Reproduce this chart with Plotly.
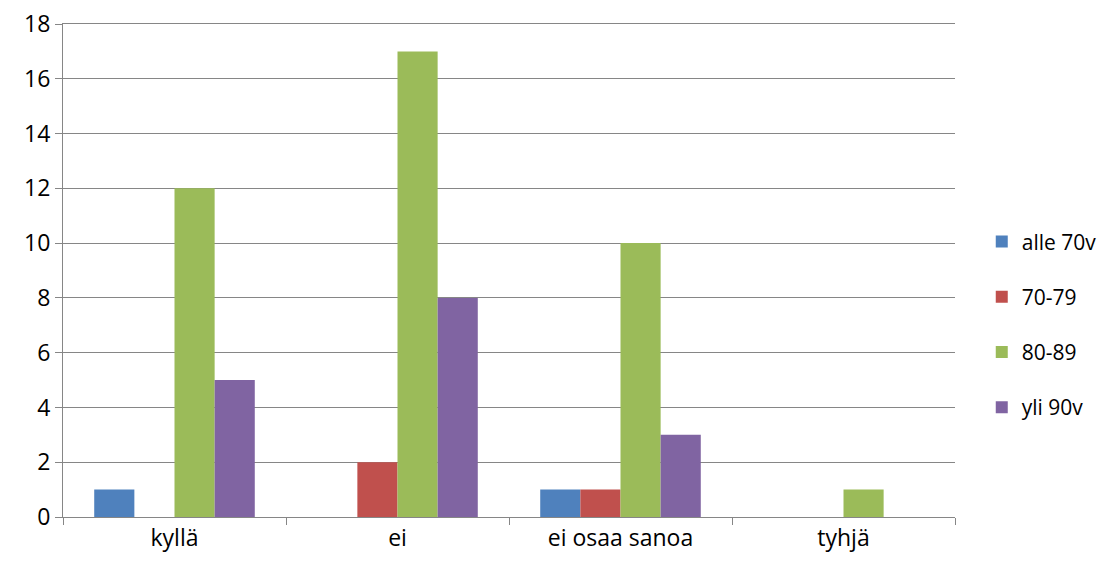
import plotly.graph_objects as go

categories = ["kyllä", "ei", "ei osaa sanoa", "tyhjä"]
series_names = ["alle 70v", "70-79", "80-89", "yli 90v"]
alle_70v = [1, 0, 1, 0]
v70_79 = [0, 2, 1, 0]
v80_89 = [12, 17, 10, 1]
yli_90v = [5, 8, 3, 0]
colors = ["#4F81BD", "#C0504D", "#9BBB59", "#8064A2"]

fig = go.Figure()
for i, (name, vals) in enumerate(zip(series_names, [alle_70v, v70_79, v80_89, yli_90v])):
    fig.add_trace(go.Bar(x=categories, y=vals, name=name, marker_color=colors[i],
                         marker_line_width=0, legendgroup=name))

font = dict(family="Open Sans, Noto Sans, sans-serif", size=23, color="#000000")
fig.update_layout(
    width=1109, height=566,
    margin=dict(l=55, r=162, t=16, b=57, autoexpand=False),
    paper_bgcolor="white", plot_bgcolor="white",
    barmode="group", bargap=0.28, bargroupgap=0,
    font=font,
    legend=dict(x=1.03, y=0.39, xanchor="left", yanchor="middle",
                tracegroupgap=25, font=dict(size=21), itemwidth=30),
    xaxis=dict(showline=True, mirror=True, linecolor="#868686", linewidth=1, automargin=False,
               ticks="outside", tickson="boundaries", ticklen=7, tickcolor="#868686",
               showgrid=False, tickfont=font),
    yaxis=dict(range=[0, 18], dtick=2, showline=True, linecolor="#868686", linewidth=1,
               automargin=False, ticklabeloverflow="allow",
               ticks="outside", ticklen=7, tickcolor="#868686",
               showgrid=True, gridcolor="#868686", gridwidth=1, zeroline=False,
               tickfont=font),
)
fig.write_html("out.html")
